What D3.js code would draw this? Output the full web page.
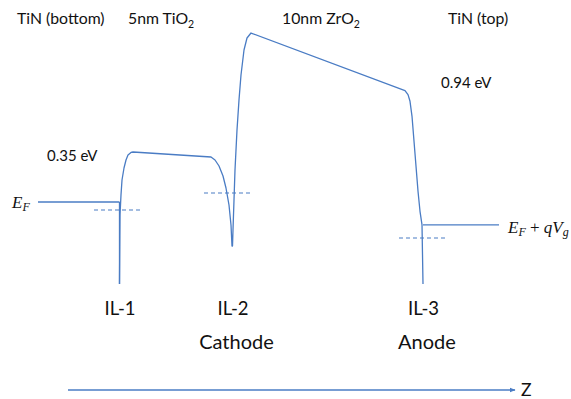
<!DOCTYPE html>
<html>
<head>
<meta charset="utf-8">
<script src="https://cdn.jsdelivr.net/npm/d3@7"></script>
<style>
  html, body { margin: 0; padding: 0; background: #fff; }
  svg { display: block; }
  .lbl { font-family: Lato, "Open Sans", sans-serif; fill: #111; }
  .math { font-family: "Liberation Serif", "DejaVu Serif", serif; font-style: italic; fill: #111; }
</style>
</head>
<body>
<svg id="chart" width="571" height="399"></svg>
<script>
// Conduction-band profile across the TiN / TiO2 / ZrO2 / TiN stack.
// Position z in nm (0 = IL-1, 5 = IL-2, 15 = IL-3), energy in eV relative to E_F.
const bandZ = [0, 0.022, 0.066, 0.111, 0.199, 0.288, 0.376, 0.509, 0.597,
  4.049, 4.226, 4.403, 4.580, 4.712, 4.845, 4.934, 4.978, 5.0,
  5.026, 5.079, 5.131, 5.236, 5.341, 5.446, 5.604, 5.761, 5.971,
  14.055, 14.213, 14.318, 14.423, 14.528, 14.633, 14.738, 14.843, 14.948, 15.0];
const bandE = [-0.574, -0.091, 0.049, 0.154, 0.238, 0.294, 0.329, 0.347, 0.350,
  0.315, 0.294, 0.252, 0.182, 0.098, -0.021, -0.161, -0.308, -0.308,
  -0.196, 0.014, 0.224, 0.504, 0.714, 0.889, 1.064, 1.148, 1.183,
  0.780, 0.752, 0.705, 0.600, 0.425, 0.250, 0.075, -0.065, -0.160, -0.574];

// Fermi levels in the metals
const fermiBottomZ = [-3.6, 0];
const fermiBottomE = 0;
const fermiTopZ = [15, 18.4];
const fermiTopE = -0.16;

// Interface trap levels (dashed)
const trapStart = [-1.126, 3.739, 13.740];
const trapEnd = [0.951, 6.024, 16.074];
const trapE = [-0.056, 0.063, -0.252];

// Labels
const layerNames = ["TiN (bottom)", "5nm TiO", "10nm ZrO", "TiN (top)"];
const layerSub = ["", "2", "2", ""];
const interfaceNames = ["IL-1", "IL-2", "IL-3"];
const interfaceZ = [0, 5, 15];
const electrodeNames = ["Cathode", "Anode"];
const electrodeZ = [5, 15];
const barrierLabels = ["0.35 eV", "0.94 eV"];

const svg = d3.select("#chart");
const color = "#4a7cc4";

const x = d3.scaleLinear().domain([-3.6, 0, 5, 15, 18.4]).range([38, 119.5, 232.5, 423, 499]);
const y = d3.scaleLinear().domain([-0.6, 1.2]).range([287.7, 30.6]);

const line = d3.line().x(d => x(d[0])).y(d => y(d[1]));

// metal Fermi levels
svg.append("path").attr("d", line(fermiBottomZ.map(z => [z, fermiBottomE])))
  .attr("fill", "none").attr("stroke", color).attr("stroke-width", 1.3);
svg.append("path").attr("d", line(fermiTopZ.map(z => [z, fermiTopE])))
  .attr("fill", "none").attr("stroke", color).attr("stroke-width", 1.3);
// bottom-metal vertical edge from E_F to the band tail
svg.append("path").attr("d", line([[0, fermiBottomE], [0, bandE[0]]]))
  .attr("fill", "none").attr("stroke", color).attr("stroke-width", 1.3);

// band edge
svg.append("path").attr("d", line(bandZ.map((z, i) => [z, bandE[i]])))
  .attr("fill", "none").attr("stroke", color).attr("stroke-width", 1.3)
  .attr("stroke-linejoin", "round");

// trap levels
trapE.forEach((e, i) => {
  svg.append("path").attr("d", line([[trapStart[i], e], [trapEnd[i], e]]))
    .attr("fill", "none").attr("stroke", color).attr("stroke-width", 1.1)
    .attr("stroke-dasharray", "4,3");
});

// layer titles across the top
const titleX = [17, 128, 282, 448];
layerNames.forEach((t, i) => {
  const tx = svg.append("text").attr("class", "lbl").attr("x", titleX[i]).attr("y", 24)
    .attr("font-size", 15.8).text(t);
  if (layerSub[i]) tx.append("tspan").attr("font-size", 10.5).attr("dy", 4).text(layerSub[i]);
});

// barrier heights
svg.append("text").attr("class", "lbl").attr("x", 47).attr("y", 161).attr("font-size", 15).text(barrierLabels[0]);
svg.append("text").attr("class", "lbl").attr("x", 441).attr("y", 88).attr("font-size", 15).text(barrierLabels[1]);

// interface and electrode names
interfaceNames.forEach((t, i) => {
  svg.append("text").attr("class", "lbl").attr("x", x(interfaceZ[i]) + 0.5).attr("y", 314.5)
    .attr("text-anchor", "middle").attr("font-size", 18.5).text(t);
});
electrodeNames.forEach((t, i) => {
  svg.append("text").attr("class", "lbl").attr("x", x(electrodeZ[i]) + 4).attr("y", 349)
    .attr("text-anchor", "middle").attr("font-size", 20).text(t);
});

// Fermi-level symbols
const ef = svg.append("text").attr("class", "math").attr("x", 12).attr("y", 208).attr("font-size", 17);
ef.append("tspan").text("E");
ef.append("tspan").attr("font-size", 12).attr("dy", 3).text("F");

const efv = svg.append("text").attr("class", "math").attr("x", 508).attr("y", 233).attr("font-size", 17);
efv.append("tspan").text("E");
efv.append("tspan").attr("font-size", 12).attr("dy", 3).text("F");
efv.append("tspan").attr("dy", -3).attr("font-style", "normal").text(" + ");
efv.append("tspan").text("qV");
efv.append("tspan").attr("font-size", 12).attr("dy", 3).text("g");

// position axis arrow
const defs = svg.append("defs");
defs.append("marker").attr("id", "arrow").attr("viewBox", "0 0 10 10")
  .attr("refX", 9).attr("refY", 5).attr("markerWidth", 6).attr("markerHeight", 6)
  .attr("orient", "auto").attr("markerUnits", "userSpaceOnUse")
  .append("path").attr("d", "M0,1 L10,5 L0,9 Z").attr("fill", color);
svg.append("line").attr("x1", 68).attr("x2", 515).attr("y1", 390).attr("y2", 390)
  .attr("stroke", color).attr("stroke-width", 1.3).attr("marker-end", "url(#arrow)");
svg.append("text").attr("class", "lbl").attr("x", 521).attr("y", 395.5).attr("font-size", 17.5).text("Z");
</script>
</body>
</html>
